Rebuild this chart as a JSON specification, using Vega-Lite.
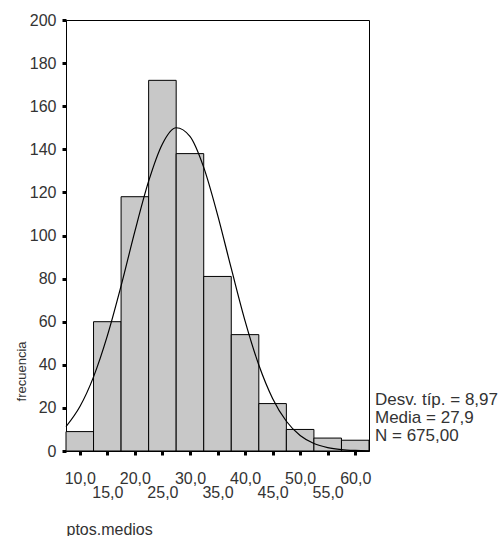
{
  "$schema": "https://vega.github.io/schema/vega-lite/v6.json",
  "width": 303,
  "height": 431,
  "autosize": "none",
  "padding": {"left": 66, "top": 20, "right": 133, "bottom": 85},
  "background": "white",
  "config": {
    "font": "Liberation Sans",
    "view": {"stroke": "#000", "strokeWidth": 1},
    "axis": {
      "domainColor": "#000",
      "tickColor": "#000",
      "labelColor": "#333",
      "titleColor": "#333",
      "labelFont": "Liberation Sans",
      "titleFont": "Liberation Sans",
      "titleFontWeight": "normal",
      "grid": false
    }
  },
  "resolve": {"axis": {"x": "independent"}},
  "layer": [
    {
      "data": {
        "values": [
          {"desde": 7.5, "hasta": 12.5, "frecuencia": 9},
          {"desde": 12.5, "hasta": 17.5, "frecuencia": 60},
          {"desde": 17.5, "hasta": 22.5, "frecuencia": 118},
          {"desde": 22.5, "hasta": 27.5, "frecuencia": 172},
          {"desde": 27.5, "hasta": 32.5, "frecuencia": 138},
          {"desde": 32.5, "hasta": 37.5, "frecuencia": 81},
          {"desde": 37.5, "hasta": 42.5, "frecuencia": 54},
          {"desde": 42.5, "hasta": 47.5, "frecuencia": 22},
          {"desde": 47.5, "hasta": 52.5, "frecuencia": 10},
          {"desde": 52.5, "hasta": 57.5, "frecuencia": 6},
          {"desde": 57.5, "hasta": 62.5, "frecuencia": 5}
        ]
      },
      "mark": {"type": "bar", "fill": "#c8c8c8", "stroke": "#000", "strokeWidth": 1},
      "encoding": {
        "x": {
          "field": "desde",
          "type": "quantitative",
          "scale": {"domain": [7.5, 62.5], "nice": false, "zero": false},
          "axis": {
            "orient": "bottom",
            "values": [10, 15, 20, 25, 30, 35, 40, 45, 50, 55, 60],
            "labelExpr": "datum.value % 10 == 0 ? replace(format(datum.value, '.1f'), '.', ',') : ''",
            "labelOverlap": false,
            "labelFlush": false,
            "labelFontSize": 16,
            "labelPadding": 15,
            "tickSize": 4,
            "tickWidth": 3,
            "title": "ptos.medios",
            "titleFontSize": 16,
            "titleAnchor": "start",
            "titleAlign": "left",
            "titleBaseline": "middle",
            "titleX": 0,
            "titleY": 78
          }
        },
        "x2": {"field": "hasta"},
        "y": {
          "field": "frecuencia",
          "type": "quantitative",
          "scale": {"domain": [0, 200], "nice": false},
          "axis": {
            "values": [0, 20, 40, 60, 80, 100, 120, 140, 160, 180, 200],
            "labelFontSize": 16,
            "labelPadding": 6,
            "labelBaseline": "middle",
            "tickSize": 4,
            "tickWidth": 3,
            "title": "frecuencia",
            "titleFontSize": 13,
            "titleAngle": -90,
            "titleAlign": "center",
            "titleBaseline": "middle",
            "titleX": -45,
            "titleY": 351
          }
        },
        "y2": {"datum": 0}
      }
    },
    {
      "data": {
        "values": [
          {"x": 7.5, "f": 11.3},
          {"x": 10, "f": 20.5},
          {"x": 12.5, "f": 34.4},
          {"x": 15, "f": 53.4},
          {"x": 17.5, "f": 76.6},
          {"x": 20, "f": 101.9},
          {"x": 22.5, "f": 125.2},
          {"x": 25, "f": 142.5},
          {"x": 27.5, "f": 150.0},
          {"x": 30, "f": 146.0},
          {"x": 32.5, "f": 131.6},
          {"x": 35, "f": 109.7},
          {"x": 37.5, "f": 84.7},
          {"x": 40, "f": 60.4},
          {"x": 42.5, "f": 39.9},
          {"x": 45, "f": 24.4},
          {"x": 47.5, "f": 13.8},
          {"x": 50, "f": 7.2},
          {"x": 52.5, "f": 3.5},
          {"x": 55, "f": 1.6},
          {"x": 57.5, "f": 0.65},
          {"x": 60, "f": 0.25},
          {"x": 62.5, "f": 0.09}
        ]
      },
      "mark": {"type": "line", "color": "#000", "strokeWidth": 1.2, "interpolate": "monotone"},
      "encoding": {
        "x": {
          "field": "x",
          "type": "quantitative",
          "axis": {
            "orient": "bottom",
            "values": [15, 25, 35, 45, 55],
            "labelExpr": "replace(format(datum.value, '.1f'), '.', ',')",
            "labelOverlap": false,
            "labelFlush": false,
            "labelFontSize": 16,
            "labelPadding": 33,
            "ticks": false,
            "domain": false,
            "title": null
          }
        },
        "y": {"field": "f", "type": "quantitative"}
      }
    },
    {
      "data": {
        "values": [
          {"texto": "Desv. típ. = 8,97", "y": 23.5},
          {"texto": "Media = 27,9", "y": 15.2},
          {"texto": "N = 675,00", "y": 6.9}
        ]
      },
      "mark": {"type": "text", "align": "left", "baseline": "middle", "fontSize": 17, "color": "#333", "dx": 6},
      "encoding": {
        "x": {"datum": 62.5, "type": "quantitative", "axis": null},
        "y": {"field": "y", "type": "quantitative"},
        "text": {"field": "texto"}
      }
    }
  ]
}
